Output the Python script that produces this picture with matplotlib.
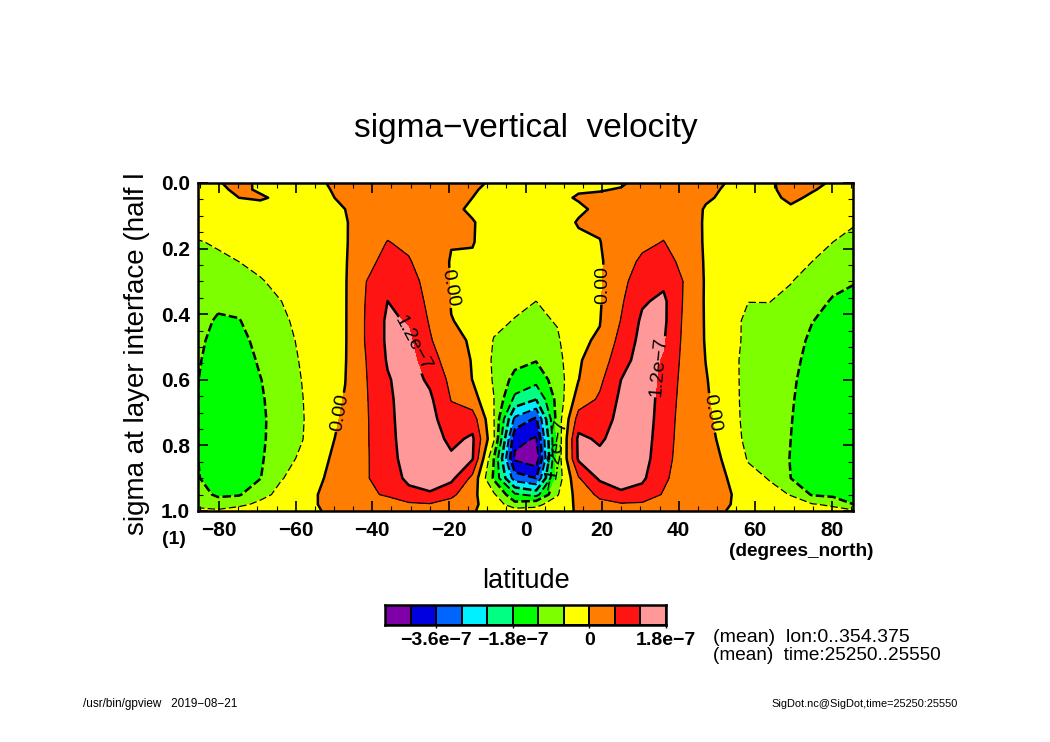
import numpy as np
import matplotlib
matplotlib.use('Agg')
import matplotlib.pyplot as plt
from matplotlib.colors import ListedColormap, BoundaryNorm

plt.rcParams['font.family'] = ['Liberation Sans', 'DejaVu Sans']

lat = [-85.76, -80.27, -74.79, -69.25, -63.71, -58.17, -52.63, -47.09, -41.55, -36.01, -30.47,
       -24.93, -19.39, -13.85, -8.31, -2.77, 2.77, 8.31, 13.85, 19.39, 24.93, 30.47,
       36.01, 41.55, 47.09, 52.63, 58.17, 63.71, 69.25, 74.79, 80.27, 85.76]
sigma = [0, .02, .045, .08, .12, .18, .24, .30, .36, .42, .48, .54, .60, .66, .72, .78, .84, .90, .95, .98, 1.0]

# zonal mean vertical velocity in 1e-7, one row per latitude, top to bottom
w = np.array([
    [-.1, -.12, -.15, -.25, -.4, -.63, -.72, -.8, -.9, -1.0, -1.05, -1.12, -1.17, -1.18, -1.18, -1.18, -1.18, -1.15, -.95, -.7, -.5],
    [-.02, -.05, -.1, -.2, -.35, -.55, -.68, -.85, -1.08, -1.27, -1.42, -1.5, -1.55, -1.58, -1.6, -1.6, -1.58, -1.5, -1.3, -.9, -.5],
    [.08, .05, 0, -.08, -.2, -.4, -.6, -.78, -1.0, -1.23, -1.4, -1.5, -1.58, -1.62, -1.62, -1.6, -1.55, -1.42, -1.25, -.75, -.3],
    [-.05, -.03, .03, -.1, -.2, -.37, -.5, -.63, -.75, -.88, -1.0, -1.12, -1.22, -1.27, -1.3, -1.3, -1.28, -1.22, -.8, -.45, -.25],
    [-.02, -.03, -.05, -.1, -.17, -.28, -.38, -.5, -.6, -.7, -.78, -.85, -.9, -.93, -.95, -.92, -.8, -.63, -.42, -.28, -.18],
    [-.02, -.02, -.03, -.05, -.08, -.14, -.2, -.28, -.36, -.44, -.5, -.54, -.58, -.61, -.63, -.61, -.5, -.35, -.2, -.1, -.08],
    [-.01, -.03, -.05, -.07, -.09, -.12, -.15, -.18, -.21, -.24, -.27, -.29, -.28, -.25, -.2, -.13, -.06, 0, .08, .04, .01],
    [.08, .07, .05, 0, -.03, -.04, -.04, -.04, -.04, -.04, -.04, -.03, -.01, .03, .08, .13, .18, .24, .3, .2, .1],
    [.1, .12, .14, .17, .2, .28, .42, .6, .64, .66, .66, .61, .58, .56, .55, .55, .55, .56, .52, .4, .3],
    [.12, .14, .17, .25, .38, .62, .8, 1.0, 1.2, 1.3, 1.3, 1.25, 1.15, 1.08, 1.02, .97, .92, .85, .65, .4, .3],
    [.1, .12, .15, .2, .3, .48, .65, .85, 1.0, 1.15, 1.3, 1.4, 1.45, 1.5, 1.55, 1.55, 1.5, 1.35, 1.0, .5, .35],
    [.06, .08, .1, .13, .17, .22, .28, .36, .44, .54, .66, .85, 1.1, 1.3, 1.42, 1.5, 1.5, 1.4, 1.15, .55, .35],
    [.05, .05, .06, .07, .06, .02, -.03, -.03, -.02, .01, .12, .3, .45, .58, .78, 1.05, 1.3, 1.35, .75, .35, .25],
    [.03, .02, 0, -.05, .02, .02, -.05, -.08, -.08, -.07, -.05, -.03, -.01, .25, .9, 1.3, 1.25, .45, .15, .08, .02],
    [-.02, -.05, -.07, -.1, -.13, -.18, -.24, -.32, -.4, -.5, -.62, -.68, -.65, -.58, -.55, -.5, -1.18, -1.28, -.5, -.2, -.1],
    [-.05, -.07, -.09, -.12, -.17, -.24, -.32, -.42, -.5, -.62, -.8, -1.0, -1.4, -1.95, -3.15, -4.05, -4.3, -3.3, -1.7, -1.0, -.3],
    [-.05, -.07, -.09, -.12, -.17, -.25, -.36, -.47, -.6, -.72, -.9, -1.17, -1.6, -2.4, -3.7, -4.25, -4.6, -3.6, -2.0, -.75, -.4],
    [-.03, -.04, -.05, -.07, -.11, -.17, -.25, -.35, -.45, -.56, -.68, -.8, -.9, -1.0, -.95, -1.05, -1.0, -.95, -.65, -.3, -.1],
    [-.03, -.02, .02, -.04, .02, -.05, -.08, -.1, -.1, -.09, -.07, -.05, -.01, .3, .85, 1.35, 1.3, .55, .25, .1, .03],
    [-.04, -.01, .03, .05, .05, -.01, -.06, -.06, -.05, -.02, .05, .25, .48, .68, .85, 1.1, 1.38, 1.3, .72, .45, .25],
    [-.02, .01, .05, .1, .14, .2, .3, .42, .52, .62, .8, 1.0, 1.2, 1.32, 1.42, 1.5, 1.5, 1.4, 1.12, .52, .3],
    [.05, .07, .1, .15, .25, .45, .72, .95, 1.13, 1.3, 1.38, 1.42, 1.45, 1.48, 1.48, 1.45, 1.42, 1.3, .98, .5, .3],
    [.1, .12, .15, .25, .4, .62, .85, 1.08, 1.32, 1.32, 1.25, 1.15, 1.08, 1.02, .97, .92, .85, .72, .55, .35, .25],
    [.1, .12, .14, .18, .23, .3, .42, .56, .52, .48, .45, .42, .38, .34, .3, .28, .27, .26, .22, .18, .14],
    [.1, .08, .04, -.03, -.05, -.06, -.06, -.06, -.06, -.05, -.04, -.01, .03, .06, .1, .14, .18, .22, .24, .2, .15],
    [-.01, -.04, -.06, -.1, -.13, -.16, -.2, -.23, -.27, -.3, -.32, -.32, -.3, -.27, -.22, -.15, -.07, 0, .07, .03, -.01],
    [-.02, -.03, -.05, -.08, -.13, -.22, -.32, -.42, -.59, -.75, -.75, -.82, -.83, -.84, -.84, -.8, -.65, -.42, -.25, -.15, -.08],
    [-.02, -.03, -.05, -.1, -.15, -.25, -.35, -.47, -.59, -.72, -.82, -.88, -.94, -.98, -1.0, -1.0, -.9, -.63, -.45, -.3, -.15],
    [.05, .06, .04, -.03, -.12, -.25, -.42, -.58, -.72, -.83, -.92, -1.0, -1.08, -1.13, -1.17, -1.2, -1.22, -1.2, -.62, -.42, -.2],
    [.04, .015, -.03, -.08, -.2, -.43, -.6, -.8, -1.0, -1.18, -1.32, -1.42, -1.5, -1.55, -1.58, -1.58, -1.55, -1.45, -1.25, -.55, -.35],
    [-.02, -.05, -.1, -.2, -.38, -.6, -.85, -1.05, -1.25, -1.4, -1.5, -1.58, -1.62, -1.65, -1.65, -1.65, -1.6, -1.52, -1.35, -.7, -.4],
    [-.1, -.15, -.25, -.38, -.55, -.78, -1.0, -1.17, -1.35, -1.45, -1.55, -1.6, -1.65, -1.68, -1.7, -1.7, -1.65, -1.55, -1.4, -1.2, -.5],
])

levels = [-4.8, -4.2, -3.6, -3.0, -2.4, -1.8, -1.2, -0.6, 0, 0.6, 1.2, 1.8]
colors = ['#7f00a8', '#0000e0', '#0064ff', '#00f0ff', '#00ff82', '#00ff00',
          '#7dff00', '#ffff00', '#ff7d00', '#ff1414', '#ff9999']
cbar_ticks = [-3.6, -1.8, 0, 1.8]
cbar_labels = ['\u22123.6e\u22127', '\u22121.8e\u22127', '0', '1.8e\u22127']
lat_ticks = [-80, -60, -40, -20, 0, 20, 40, 60, 80]
lat_labels = ['\u221280', '\u221260', '\u221240', '\u221220', '0', '20', '40', '60', '80']
sig_ticks = [0, .2, .4, .6, .8, 1.0]
# where each contour label sits and how it is turned
label_at = [(-48, .70), (-20.3, .32), (20.2, .31), (49.3, .70), (-29.6, .49), (35.1, .56), (5.9, .83)]
label_rot = [80, -80, 90, -80, -62, 85, 80]

W, H = 1050, 742


def box(x0, y0, x1, y1):
    # pixel box, y from the top of the picture
    return [x0 / W, 1 - y1 / H, (x1 - x0) / W, (y1 - y0) / H]


def label(x, y, s, **kw):
    return fig.text(x / W, 1 - y / H, s, va='center', **kw)


cmap = ListedColormap(colors)
norm = BoundaryNorm(levels, cmap.N)

fig = plt.figure(figsize=(10.5, 7.42), dpi=100)
ax = fig.add_axes(box(198, 183, 853, 511))
ax.contourf(lat, sigma, w.T, levels=levels, cmap=cmap, norm=norm)

dash_thin = (0, (6, 2.5))
dash_mid = (0, (4.2, 1.8))
dash_thick = (0, (3.4, 1.3))
ax.contour(lat, sigma, w.T, levels=[-0.6], colors='k', linewidths=0.9, linestyles=[dash_thin])
ax.contour(lat, sigma, w.T, levels=[0.6, 1.8], colors='k', linewidths=0.9)
ax.contour(lat, sigma, w.T, levels=[-4.2, -3.0, -1.8], colors='k', linewidths=1.4, linestyles=[dash_mid])
ax.contour(lat, sigma, w.T, levels=[-3.6, -2.4], colors='k', linewidths=1.8, linestyles=[dash_thick])
cs_lab = ax.contour(lat, sigma, w.T, levels=[-1.2, 0, 1.2], colors='k', linewidths=1.8,
                    linestyles=[dash_thick, 'solid', 'solid'])
fmt = {0: '0.00', 1.2: '1.2e\u22127', -1.2: '\u22121.2e\u22127'}
texts = ax.clabel(cs_lab, fmt=fmt, fontsize=14, inline=True, inline_spacing=1, manual=label_at)
for t, r in zip(cs_lab.labelTexts, label_rot):
    t.set_rotation(r)

ax.set_xlim(-85.5, 85.5)
ax.set_ylim(1, 0)
ax.set_xticks(lat_ticks, lat_labels)
ax.set_xticks(np.arange(-85, 86, 5), minor=True)
ax.set_yticks(sig_ticks, ['0.0', '0.2', '0.4', '0.6', '0.8', '1.0'])
ax.set_yticks(np.arange(0, 1.01, .05), minor=True)
ax.tick_params(which='major', direction='in', length=7, width=1.2, top=True, right=True, labelsize=15)
ax.tick_params(which='minor', direction='in', length=3.5, width=0.8, top=True, right=True)
ax.tick_params(axis='x', which='major', pad=7)
ax.tick_params(axis='y', which='major', pad=6)
for t in ax.get_xticklabels() + ax.get_yticklabels():
    t.set_fontweight('bold')
for s in ax.spines.values():
    s.set_linewidth(1.8)

label(526, 129, 'sigma\u2212vertical  velocity', ha='center', fontsize=24)
label(137, 354, 'sigma at layer interface (half l', ha='center', rotation=90, fontsize=20)
label(174, 540, '(1)', ha='center', fontsize=14, fontweight='bold')
label(873, 552, '(degrees_north)', ha='right', fontsize=13.7, fontweight='bold')
label(526, 581, 'latitude', ha='center', fontsize=19.5)
label(713, 637, '(mean)  lon:0..354.375', ha='left', fontsize=14)
label(713, 656, '(mean)  time:25250..25550', ha='left', fontsize=13.7)
label(83, 704, '/usr/bin/gpview   2019\u221208\u221221', ha='left', fontsize=8.5)
label(958, 704, 'SigDot.nc@SigDot,time=25250:25550', ha='right', fontsize=7.9)

# colour bar, one box per shading interval
cax = fig.add_axes(box(385, 605, 666, 625))
cax.pcolormesh(levels, [0, 1], [[(a + b) / 2 for a, b in zip(levels[:-1], levels[1:])]],
               cmap=cmap, norm=norm, edgecolors='k', linewidth=1.2)
cax.set_yticks([])
cax.set_xticks(cbar_ticks, cbar_labels)
cax.tick_params(axis='x', length=2, width=1, pad=3, labelsize=14)
for t in cax.get_xticklabels():
    t.set_fontweight('bold')
for s in cax.spines.values():
    s.set_linewidth(1.8)

fig.savefig('out.png', dpi=100)
